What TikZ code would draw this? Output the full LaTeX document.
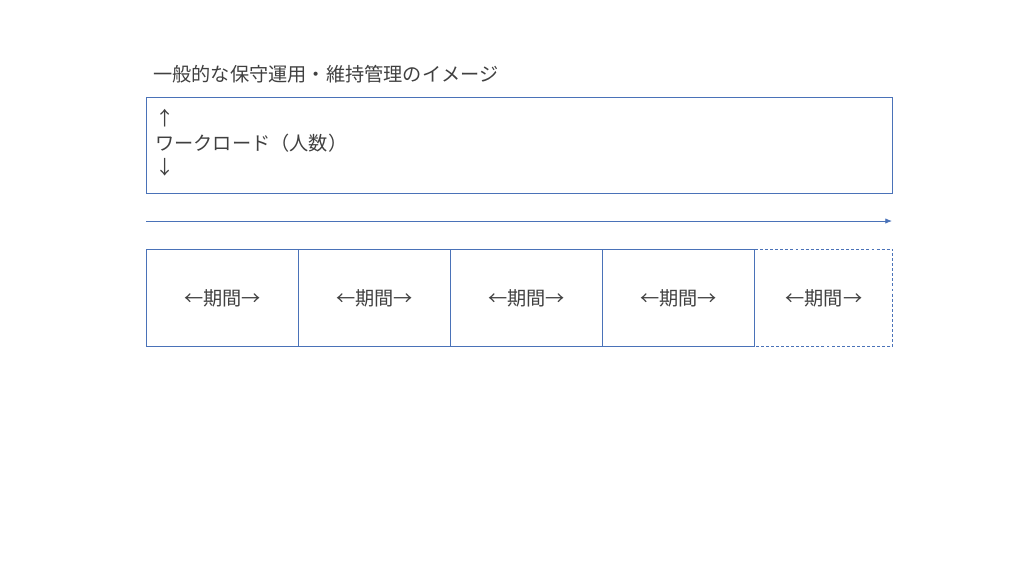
\documentclass[tikz,border=0pt]{standalone}
\usepackage{fontspec}
\setmainfont{Noto Sans CJK JP}
\usetikzlibrary{arrows.meta}
\definecolor{edge}{HTML}{4A72B8}
\definecolor{ink}{HTML}{404040}
\tikzset{
  cell/.style={draw=edge, line width=0.6pt, minimum width=152*0.75pt, minimum height=97*0.75pt, inner sep=0pt, text=ink, font=\fontsize{14.4pt}{17pt}\selectfont},
  label/.style={text=ink, inner sep=0pt, anchor=west, font=\fontsize{14.4pt}{17pt}\selectfont}
}
\begin{document}
\begin{tikzpicture}[x=0.75pt,y=-0.75pt]
\useasboundingbox (0,0) rectangle (1024,576);
\node[label] (title) at (153,74) {一般的な保守運用・維持管理のイメージ};
\node[draw=edge, line width=0.6pt, minimum width=746*0.75pt, minimum height=96*0.75pt, inner sep=0pt, anchor=north west] (wl) at (146,97) {};
\node[label, align=left, font=\fontsize{14.4pt}{18.4pt}\selectfont] (wltext) at (155,143) {↑\\ワークロード（人数）\\↓};
\coordinate (a0) at (146,221);
\coordinate (a1) at (892,221);
\draw[edge, line width=0.6pt, -{Latex[length=5pt,width=4pt]}] (a0) -- (a1);
\node[cell, anchor=north west] (p1) at (146,249) {←期間→};
\node[cell, anchor=north west] (p2) at (298,249) {←期間→};
\node[cell, anchor=north west] (p3) at (450,249) {←期間→};
\node[cell, anchor=north west] (p4) at (602,249) {←期間→};
\node[cell, draw=none, minimum width=137*0.75pt, anchor=north west] (p5) at (755,249) {←期間→};
\draw[edge, line width=0.6pt, dashed, dash pattern=on 2.2pt off 1.6pt] (p5.north west) -- (p5.north east) -- (p5.south east) -- (p5.south west);
\end{tikzpicture}
\end{document}
